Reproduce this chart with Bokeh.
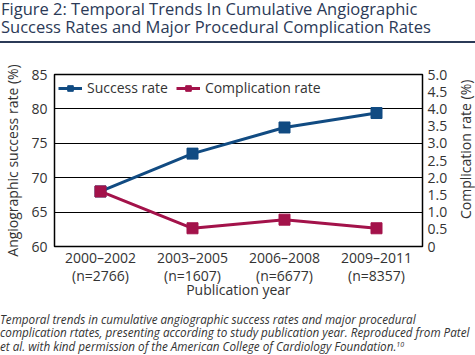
import math
from bokeh.plotting import figure
from bokeh.models import (Range1d, LinearAxis, CategoricalAxis, FactorRange, FixedTicker, Div,
                          Legend, LegendItem, NumeralTickFormatter)
from bokeh.core.properties import value
from bokeh.layouts import column, row
from bokeh.embed import file_html
from bokeh.resources import INLINE

# ---- data ----
periods = ["2000–2002", "2003–2005", "2006–2008", "2009–2011"]
sample_sizes = ["(n=2766)", "(n=1607)", "(n=6677)", "(n=8357)"]
success_rate = [68.0, 73.5, 77.3, 79.4]
complication_rate = [1.6, 0.53, 0.78, 0.53]
left_ticks = [60, 65, 70, 75, 80, 85]
right_ticks = [0, 0.5, 1.0, 1.5, 2.0, 2.5, 3.0, 3.5, 4.0, 4.5, 5.0]

FONT = "Open Sans"
BLUE = "#114b82"
RED = "#a3124a"
NAVY = "#2b3a57"
TXT = "#333333"
FS = "14px"
FIG_H = 257

title = Div(
    text=(f'<div style="font-family:{FONT};font-size:16.5px;line-height:18px;color:{NAVY};'
          f'width:475px;height:43px;padding:0 0 0 1px;border-bottom:2px solid {NAVY};box-sizing:border-box;'
          'white-space:nowrap;">'
          'Figure 2: Temporal Trends In Cumulative Angiographic<br>'
          'Success Rates and Major Procedural Complication Rates</div>'),
    width=475, height=44, margin=(0, 0, 0, 0))

p = figure(width=450, height=FIG_H, x_range=FactorRange(*periods, range_padding=0),
           y_range=Range1d(60, 85), output_backend="svg", toolbar_location=None,
           min_border_left=52, min_border_right=27, min_border_top=30, min_border_bottom=10,
           margin=(0, 0, 0, 0), x_axis_location=None, y_axis_location=None)
p.extra_y_ranges = {"comp": Range1d(0, 5)}
p.extra_x_ranges = {"n": FactorRange(*sample_sizes, range_padding=0)}

p.outline_line_color = "black"
p.outline_line_width = 1.5
p.xgrid.visible = False
p.ygrid.grid_line_color = "black"
p.ygrid.grid_line_width = 1.2
p.ygrid.ticker = FixedTicker(ticks=left_ticks)
p.background_fill_color = "white"
p.border_fill_color = "white"


def style_axis(ax):
    ax.axis_line_color = None
    ax.major_tick_line_color = None
    ax.minor_tick_line_color = None
    ax.major_tick_out = 0
    ax.major_tick_in = 0
    ax.minor_tick_out = 0
    ax.major_label_text_font = FONT
    ax.major_label_text_font_size = FS
    ax.major_label_text_color = TXT
    ax.axis_label_text_font = FONT
    ax.axis_label_text_font_size = FS
    ax.axis_label_text_font_style = "normal"
    ax.axis_label_text_color = TXT


lax = LinearAxis(ticker=FixedTicker(ticks=left_ticks), axis_label="Angiographic success rate (%)")
style_axis(lax)
lax.major_label_standoff = 7
lax.axis_label_standoff = 6
p.add_layout(lax, "left")

rax = LinearAxis(y_range_name="comp", ticker=FixedTicker(ticks=right_ticks),
                 formatter=NumeralTickFormatter(format="0.0"))
rax.major_label_overrides = {0: "0"}
style_axis(rax)
rax.major_label_standoff = 5
p.add_layout(rax, "right")

xax1 = CategoricalAxis()
style_axis(xax1)
xax1.major_label_standoff = 1
p.add_layout(xax1, "below")

xax2 = CategoricalAxis(x_range_name="n", axis_label="Publication year")
style_axis(xax2)
xax2.major_label_standoff = -4
xax2.axis_label_standoff = -8
p.add_layout(xax2, "below")

l1 = p.line(periods, success_rate, line_color=BLUE, line_width=3)
s1 = p.scatter(periods, success_rate, marker="square", size=11, fill_color=BLUE, line_color=BLUE)
l2 = p.line(periods, complication_rate, line_color=RED, line_width=3, y_range_name="comp")
s2 = p.scatter(periods, complication_rate, marker="square", size=11, fill_color=RED, line_color=RED,
               y_range_name="comp")

legend = Legend(items=[LegendItem(label="Success rate", renderers=[l1, s1]),
                       LegendItem(label="Complication rate", renderers=[l2, s2])],
                orientation="horizontal", location="top_left",
                border_line_color=None, background_fill_alpha=0,
                label_text_font=FONT, label_text_font_size=FS, label_text_color=TXT,
                glyph_width=24, glyph_height=14, spacing=8, padding=4, margin=4,
                label_standoff=5)
p.add_layout(legend)

# right-hand axis title, drawn in a narrow companion figure so it reads bottom-to-top
lab = figure(width=25, height=FIG_H, x_range=Range1d(0, 1), y_range=Range1d(0, 1),
             output_backend="svg", toolbar_location=None, min_border=0,
             margin=(0, 0, 0, 0), x_axis_location=None, y_axis_location=None)
lab.outline_line_color = None
lab.grid.visible = False
lab.background_fill_color = "white"
lab.border_fill_color = "white"
lab.text(x=[0.6], y=[0.565], text=["Complication rate (%)"], angle=math.pi / 2,
         text_align="center", text_baseline="middle",
         text_font=value(FONT), text_font_size=value(FS), text_color=TXT)

caption = Div(
    text=(f'<div style="font-family:{FONT};font-style:italic;font-size:11.7px;line-height:13.3px;'
          f'color:{TXT};width:475px;padding-top:12px;white-space:nowrap;">'
          'Temporal trends in cumulative angiographic success rates and major procedural<br>'
          'complication rtates, presenting according to study publication year. Reproduced from Patel<br>'
          'et al. with kind permission of the American College of Cardiology Foundation.'
          '<span style="font-size:7px;position:relative;top:-4px;">10</span></div>'),
    width=475, height=54, margin=(0, 0, 0, 0))

layout = column(title, row(p, lab, spacing=0, margin=(0, 0, 0, 0)), caption,
                spacing=0, margin=(0, 0, 0, 0))
open("out.html", "w").write(file_html(layout, INLINE))
